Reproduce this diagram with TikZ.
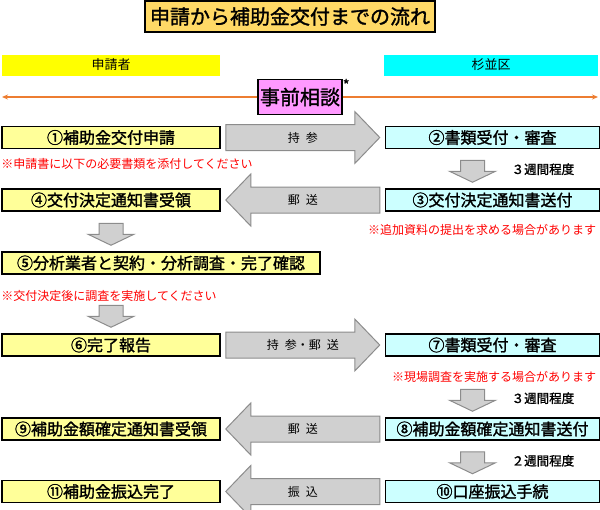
\documentclass[tikz,border=0pt]{standalone}
\usepackage{fontspec}
\setmainfont{Noto Sans CJK JP}
\newfontfamily\boxfont[FakeBold=1.5]{Noto Sans CJK JP}
\usetikzlibrary{arrows.meta, positioning, calc}

\definecolor{titleorange}{HTML}{FFD966}
\definecolor{hdryellow}{HTML}{FFFF00}
\definecolor{hdrcyan}{HTML}{00FFFF}
\definecolor{appyellow}{HTML}{FFFF99}
\definecolor{wardcyan}{HTML}{CCFFFF}
\definecolor{consultpink}{HTML}{FF99FF}
\definecolor{lineorange}{HTML}{ED7D31}
\definecolor{arrowgray}{HTML}{D0D0D0}
\definecolor{arrowedge}{HTML}{8C8C8C}

% fat gray arrow across the two columns, with its label
\newcommand{\sidearrow}[4]{%
  \filldraw[fatarrow] let \p1=(#1), \p2=(#2), \n1={sign(\x2-\x1)} in
    ({\x1+5*\n1},{\y1+13}) -- ({\x2-30*\n1},{\y1+13}) -- ({\x2-30*\n1},{\y1+26})
    -- ({\x2-5*\n1},\y1) -- ({\x2-30*\n1},{\y1-26}) -- ({\x2-30*\n1},{\y1-13})
    -- ({\x1+5*\n1},{\y1-13}) -- cycle;
  \node[via] (#3) at ($(#1)!0.5!(#2)$) {#4};}
% small gray arrow down a column
\newcommand{\dnarrow}[3]{%
  \filldraw[fatarrow] let \p1=(#1.south), \p2=(#2.north), \n1={\x1+(#3)} in
    ({\n1-12},{\y2+28}) -- ({\n1+12},{\y2+28}) -- ({\n1+12},{\y2+17})
    -- ({\n1+23},{\y2+17}) -- (\n1,{\y2+6}) -- ({\n1-23},{\y2+17})
    -- ({\n1-12},{\y2+17}) -- cycle;}

\begin{document}
\begin{tikzpicture}[
  x=1pt, y=1pt,
  node distance=39pt and 164pt,
  titlebox/.style={
    draw=black, line width=1.5pt, fill=titleorange,
    minimum width=290pt, minimum height=31pt, inner sep=0pt,
    font=\boxfont\fontsize{20}{20}\selectfont
  },
  header/.style={minimum height=21pt, inner sep=0pt, font=\fontsize{13}{13}\selectfont},
  flowbox/.style={
    draw=black, line width=1.5pt, minimum height=22pt, inner sep=0pt,
    font=\boxfont\fontsize{16}{16}\selectfont
  },
  appbox/.style={flowbox, fill=appyellow, minimum width=218pt},
  wardbox/.style={flowbox, fill=wardcyan, minimum width=214pt},
  consultbox/.style={
    draw=black, line width=1.5pt, fill=consultpink,
    minimum width=84pt, minimum height=35pt, inner sep=0pt,
    font=\boxfont\fontsize{20}{20}\selectfont
  },
  note/.style={text=red, inner sep=0pt, font=\fontsize{12}{12}\selectfont},
  via/.style={inner sep=0pt, font=\fontsize{12}{12}\selectfont},
  weeks/.style={anchor=west, inner sep=0pt, font=\boxfont\fontsize{12.5}{12.5}\selectfont},
  fatarrow/.style={fill=arrowgray, draw=arrowedge, line width=1pt},
  flowline/.style={-{Stealth[length=6pt, width=5pt]}, lineorange, line width=1.5pt}
]
\useasboundingbox (0,0) rectangle (600,-509);

\node[titlebox] (ttl) at (290,-16.5) {申請から補助金交付までの流れ};
\node[header, fill=hdryellow, minimum width=218pt] (hdrapp)  at (111,-65) {申請者};
\node[header, fill=hdrcyan,   minimum width=214pt] (hdrward) at (491,-65) {杉並区};

% prior consultation across both columns
\coordinate (lend) at (2,-97);
\coordinate (rend) at (598,-97);
\node[consultbox, label={[inner sep=0pt, font=\boxfont\fontsize{14}{14}\selectfont,
      anchor=north west]north east:*}] (consult) at (300,-97) {事前相談};
\draw[flowline] (consult.west) -- (lend);
\draw[flowline] (consult.east) -- (rend);

% the steps
\node[appbox] (a1) at (111,-137.5) {①補助金交付申請};
\node[wardbox, right=of a1] (a2) {②書類受付・審査};
\node[appbox, below=of a1] (a4) {④交付決定通知書受領};
\node[wardbox, right=of a4] (a3) {③交付決定通知書送付};
\node[appbox, below=39.5pt of a4.south west, anchor=north west, minimum width=318pt] (a5)
  {⑤分析業者と契約・分析調査・完了確認};
\node[appbox, below=58.5pt of a5.south west, anchor=north west] (a6) {⑥完了報告};
\node[wardbox, right=of a6] (a7) {⑦書類受付・審査};
\node[appbox, below=60.5pt of a6] (a9) {⑨補助金額確定通知書受領};
\node[wardbox, right=of a9] (a8) {⑧補助金額確定通知書送付};
\node[appbox, below=of a9] (a11) {⑪補助金振込完了};
\node[wardbox, right=of a11] (a10) {⑩口座振込手続};

% red remarks
\node[note, below=8.5pt of a1.south west, anchor=north west] (n1)
  {※申請書に以下の必要書類を添付してください};
\node[note, below=12.5pt of a3.south east, anchor=north east, xshift=-4pt] (n2)
  {※追加資料の提出を求める場合があります};
\node[note, below=15pt of a5.south west, anchor=north west] (n3)
  {※交付決定後に調査を実施してください};
\node[note, below=14.5pt of a7.south east, anchor=north east, xshift=-4pt] (n4)
  {※現場調査を実施する場合があります};

% arrows
\sidearrow{a1.east}{a2.west}{v1}{持\hspace{0.5em}参}
\sidearrow{a3.west}{a4.east}{v2}{郵\hspace{0.5em}送}
\sidearrow{a6.east}{a7.west}{v3}{持\hspace{0.5em}参・郵\hspace{0.5em}送}
\sidearrow{a8.west}{a9.east}{v4}{郵\hspace{0.5em}送}
\sidearrow{a10.west}{a11.east}{v5}{振\hspace{0.5em}込}
\dnarrow{a2}{a3}{-20}
\dnarrow{a4}{a5}{0}
\dnarrow{a5}{a6}{-50}
\dnarrow{a7}{a8}{-20}
\dnarrow{a8}{a10}{-20}
\node[weeks] (wk1) at ($(a3.north)+(19,19)$) {３週間程度};
\node[weeks] (wk2) at ($(a8.north)+(19,19)$) {３週間程度};
\node[weeks] (wk3) at ($(a10.north)+(19,19)$) {２週間程度};
\end{tikzpicture}
\end{document}
